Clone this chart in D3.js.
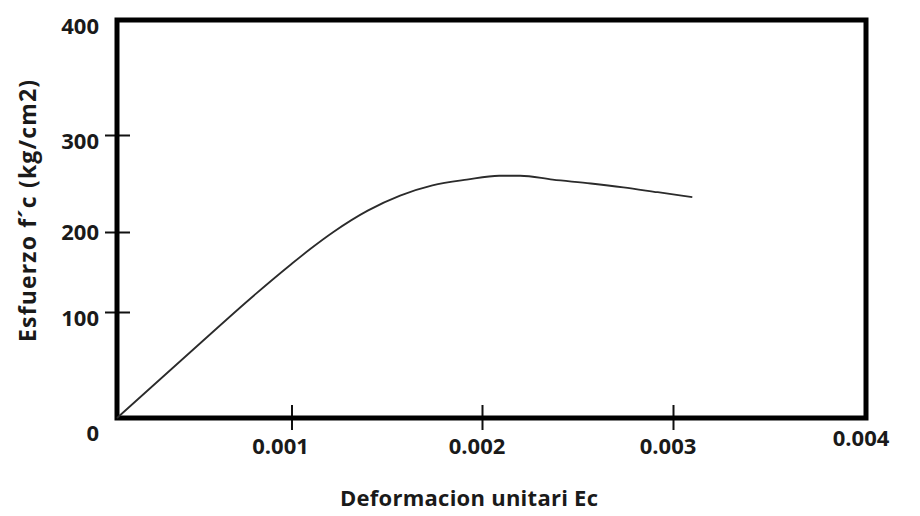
<!DOCTYPE html>
<html>
<head>
<meta charset="utf-8">
<script src="https://cdn.jsdelivr.net/npm/d3@7"></script>
<style>
  body { margin: 0; background: #fff; }
  text { font-family: "Open Sans", sans-serif; font-weight: bold; fill: #1a1a1a; }
</style>
</head>
<body>
<svg id="myGraph" width="920" height="516"></svg>
<script>
// curva esfuerzo - deformacion
var strain = [0, 0.00048, 0.00076, 0.001, 0.0011, 0.00122, 0.0014, 0.00157, 0.00174, 0.00192, 0.00209, 0.0022, 0.00237, 0.00257, 0.00274, 0.00292, 0.0031];
var stress = [0, 71, 116, 160, 179, 200, 222, 237.5, 248, 254, 258, 258, 254, 250, 246, 241, 236];
var xTicks = [0.001, 0.002, 0.003, 0.004];
var yTicks = [0, 100, 200, 300, 400];

var svg = d3.select("#myGraph");
var mLeft = 117, mRight = 866, mTop = 20, mBottom = 418;

// escalas dibujadas a mano en el original -> escalas por tramos
var xScale = d3.scaleLinear()
    .domain([0, 0.001, 0.002, 0.003, 0.004])
    .range([mLeft, 291.5, 482, 673, mRight]);
var yScale = d3.scaleLinear()
    .domain([0, 100, 200, 300, 400])
    .range([mBottom, 312, 232, 135, mTop]);

/* marcas eje y */
svg.append("g")
    .attr("transform", "translate(" + (mLeft + 13) + ",0)")
    .call(d3.axisLeft(yScale).tickValues(yTicks.slice(1, -1)).tickSize(25).tickFormat(""))
    .call(function(g) { g.select(".domain").remove(); })
    .selectAll("line").attr("stroke", "#111").attr("stroke-width", 2);

/* marcas eje x */
svg.append("g")
    .attr("transform", "translate(0," + (mBottom - 13) + ")")
    .call(d3.axisBottom(xScale).tickValues(xTicks.slice(0, -1)).tickSize(25).tickFormat(""))
    .call(function(g) { g.select(".domain").remove(); })
    .selectAll("line").attr("stroke", "#111").attr("stroke-width", 2);

/* marco */
svg.append("rect")
    .attr("x", mLeft).attr("y", mTop)
    .attr("width", mRight - mLeft).attr("height", mBottom - mTop)
    .attr("fill", "none")
    .attr("stroke", "#000")
    .attr("stroke-width", 5);

/* curva */
var line = d3.line()
    .x(function(d) { return xScale(d[0]); })
    .y(function(d) { return yScale(d[1]); })
    .curve(d3.curveMonotoneX);

svg.append("path")
    .datum(d3.zip(strain, stress))
    .attr("d", line)
    .attr("fill", "none")
    .attr("stroke", "#2b2b2b")
    .attr("stroke-width", 1.8);

/* etiquetas */
svg.append("g").selectAll("text")
    .data(yTicks)
    .enter().append("text")
    .text(function(d) { return d; })
    .attr("x", 99)
    .attr("y", function(d) {
        var off = d === 0 ? 23 : (d === 200 ? 8 : 14);
        return yScale(d) + off;
    })
    .style("text-anchor", "end")
    .style("font-size", "22px");

svg.append("g").selectAll("text")
    .data(xTicks)
    .enter().append("text")
    .text(function(d) { return d3.format(".3f")(d); })
    .attr("x", function(d) { return xScale(d) - (d === 0.001 ? 11 : 5); })
    .attr("y", function(d) { return d === 0.004 ? 446 : 454; })
    .style("text-anchor", "middle")
    .style("font-size", "22px");

svg.append("text")
    .text("Deformacion unitari Ec")
    .attr("x", 469)
    .attr("y", 506)
    .attr("textLength", 258)
    .style("text-anchor", "middle")
    .style("font-size", "22px");

svg.append("text")
    .text("Esfuerzo f´c (kg/cm2)")
    .attr("transform", "translate(36,211) rotate(-90)")
    .attr("textLength", 262)
    .style("text-anchor", "middle")
    .style("font-size", "23px");
</script>
</body>
</html>
